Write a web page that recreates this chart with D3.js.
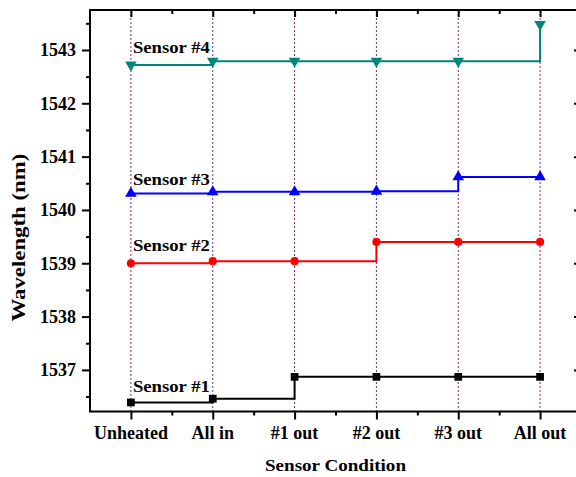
<!DOCTYPE html>
<html>
<head>
<meta charset="utf-8">
<script src="https://cdn.jsdelivr.net/npm/d3@7"></script>
<style>
  html, body { margin: 0; padding: 0; background: #fff; }
  svg { display: block; }
  text { font-family: "Liberation Serif", "Times New Roman", serif; font-weight: bold; fill: #000; }
</style>
</head>
<body>
<svg id="chart" width="576" height="477"></svg>
<script>
// Sensor conditions along the x axis
const conditions = ["Unheated", "All in", "#1 out", "#2 out", "#3 out", "All out"];

// Peak wavelength (nm) of each sensor per condition
const sensor1 = [1536.39, 1536.46, 1536.87, 1536.87, 1536.87, 1536.87];
const sensor2 = [1539.00, 1539.04, 1539.04, 1539.40, 1539.40, 1539.40];
const sensor3 = [1540.31, 1540.34, 1540.34, 1540.35, 1540.62, 1540.62];
const sensor4 = [1542.72, 1542.79, 1542.79, 1542.79, 1542.79, 1543.48];

const seriesNames = ["Sensor #1", "Sensor #2", "Sensor #3", "Sensor #4"];
// Wavelength at which each series label sits (label baseline, in nm)
const labelLevels = [1536.59, 1539.23, 1540.47, 1542.95];

const yTicks = [1537, 1538, 1539, 1540, 1541, 1542, 1543];
const yMinorTicks = [1536.5, 1537.5, 1538.5, 1539.5, 1540.5, 1541.5, 1542.5, 1543.5];

const svg = d3.select("#chart");
const plotLeft = 90, plotRight = 581, plotTop = 10, plotBottom = 411.5;

const x = d3.scaleLinear().domain([-0.5, 5.5]).range([plotLeft, plotRight]);
const y = d3.scaleLinear().domain([1536.22, 1543.75]).range([plotBottom, plotTop]);

const catIdx = conditions.map((d, i) => i);
const halfIdx = d3.range(0, 5).map(i => i + 0.5);

// Dotted guide lines at each condition
svg.append("g").selectAll("line").data(catIdx).join("line")
  .attr("x1", d => x(d)).attr("x2", d => x(d))
  .attr("y1", plotTop).attr("y2", plotBottom)
  .attr("stroke", "#7a2a7a").attr("stroke-width", 1)
  .attr("stroke-dasharray", "2,2");

// Series definitions
const series = [
  { name: seriesNames[0], values: sensor1, color: "#000000", symbol: d3.symbolSquare, size: 60, rot: 0 },
  { name: seriesNames[1], values: sensor2, color: "#ff0000", symbol: d3.symbolCircle, size: 52, rot: 0 },
  { name: seriesNames[2], values: sensor3, color: "#0000ff", symbol: d3.symbolTriangle, size: 58, rot: 0 },
  { name: seriesNames[3], values: sensor4, color: "#00857c", symbol: d3.symbolTriangle, size: 58, rot: 180 }
];

const line = d3.line()
  .x((d, i) => x(i))
  .y(d => y(d))
  .curve(d3.curveStepAfter);

series.forEach((s, k) => {
  const g = svg.append("g");
  g.append("path")
    .attr("d", line(s.values))
    .attr("fill", "none")
    .attr("stroke", s.color)
    .attr("stroke-width", 2);
  g.selectAll("path.pt").data(s.values).join("path")
    .attr("class", "pt")
    .attr("d", d3.symbol().type(s.symbol).size(s.size))
    .attr("transform", (d, i) => `translate(${x(i)},${y(d)}) rotate(${s.rot})`)
    .attr("fill", s.color);
  g.append("text")
    .attr("x", x(0) + 2)
    .attr("y", y(labelLevels[k]))
    .attr("font-size", 17)
    .attr("textLength", 77)
    .attr("lengthAdjust", "spacingAndGlyphs")
    .text(s.name);
});

// Frame and axes
const axisG = svg.append("g");

// Bottom axis: major ticks at conditions, minor ticks between
const xAxis = d3.axisBottom(x).tickValues(catIdx).tickFormat(() => "").tickSize(8).tickSizeOuter(0);
axisG.append("g").attr("transform", `translate(0,${plotBottom})`).call(xAxis);
const xMinor = d3.axisBottom(x).tickValues(halfIdx).tickFormat(() => "").tickSize(4).tickSizeOuter(0);
axisG.append("g").attr("transform", `translate(0,${plotBottom})`).call(xMinor);

// Top axis: inward ticks
const xTop = d3.axisBottom(x).tickValues(catIdx).tickFormat(() => "").tickSize(7).tickSizeOuter(0);
axisG.append("g").attr("transform", `translate(0,${plotTop})`).call(xTop);
const xTopMinor = d3.axisBottom(x).tickValues(halfIdx).tickFormat(() => "").tickSize(4).tickSizeOuter(0);
axisG.append("g").attr("transform", `translate(0,${plotTop})`).call(xTopMinor);

// Left axis
const yAxis = d3.axisLeft(y).tickValues(yTicks).tickFormat(() => "").tickSize(8).tickSizeOuter(0);
axisG.append("g").attr("transform", `translate(${plotLeft},0)`).call(yAxis);
const yMinor = d3.axisLeft(y).tickValues(yMinorTicks).tickFormat(() => "").tickSize(4).tickSizeOuter(0);
axisG.append("g").attr("transform", `translate(${plotLeft},0)`).call(yMinor);

// Right axis: inward ticks
const yRight = d3.axisLeft(y).tickValues(yTicks).tickFormat(() => "").tickSize(7).tickSizeOuter(0);
axisG.append("g").attr("transform", `translate(${plotRight},0)`).call(yRight);
const yRightMinor = d3.axisLeft(y).tickValues(yMinorTicks).tickFormat(() => "").tickSize(4).tickSizeOuter(0);
axisG.append("g").attr("transform", `translate(${plotRight},0)`).call(yRightMinor);

axisG.selectAll(".domain").remove();
axisG.selectAll(".tick line").attr("stroke", "#000").attr("stroke-width", 2);

// Plot frame
svg.append("rect")
  .attr("x", plotLeft).attr("y", plotTop)
  .attr("width", plotRight - plotLeft).attr("height", plotBottom - plotTop)
  .attr("fill", "none").attr("stroke", "#000").attr("stroke-width", 2);

// Tick labels
svg.append("g").selectAll("text").data(conditions).join("text")
  .attr("x", (d, i) => x(i))
  .attr("y", 439)
  .attr("text-anchor", "middle")
  .attr("font-size", 18)
  .text(d => d);

svg.append("g").selectAll("text").data(yTicks).join("text")
  .attr("x", plotLeft - 14)
  .attr("y", d => y(d))
  .attr("dy", "0.35em")
  .attr("text-anchor", "end")
  .attr("font-size", 18)
  .text(d => d);

// Axis titles
svg.append("text")
  .attr("x", (plotLeft + plotRight) / 2)
  .attr("y", 471)
  .attr("text-anchor", "middle")
  .attr("font-size", 17)
  .attr("textLength", 141)
  .attr("lengthAdjust", "spacingAndGlyphs")
  .text("Sensor Condition");

svg.append("text")
  .attr("transform", `translate(25,${(y(1541) + y(1538)) / 2 + 1}) rotate(-90)`)
  .attr("text-anchor", "middle")
  .attr("font-size", 18)
  .attr("textLength", 168)
  .attr("lengthAdjust", "spacingAndGlyphs")
  .text("Wavelength (nm)");
</script>
</body>
</html>
